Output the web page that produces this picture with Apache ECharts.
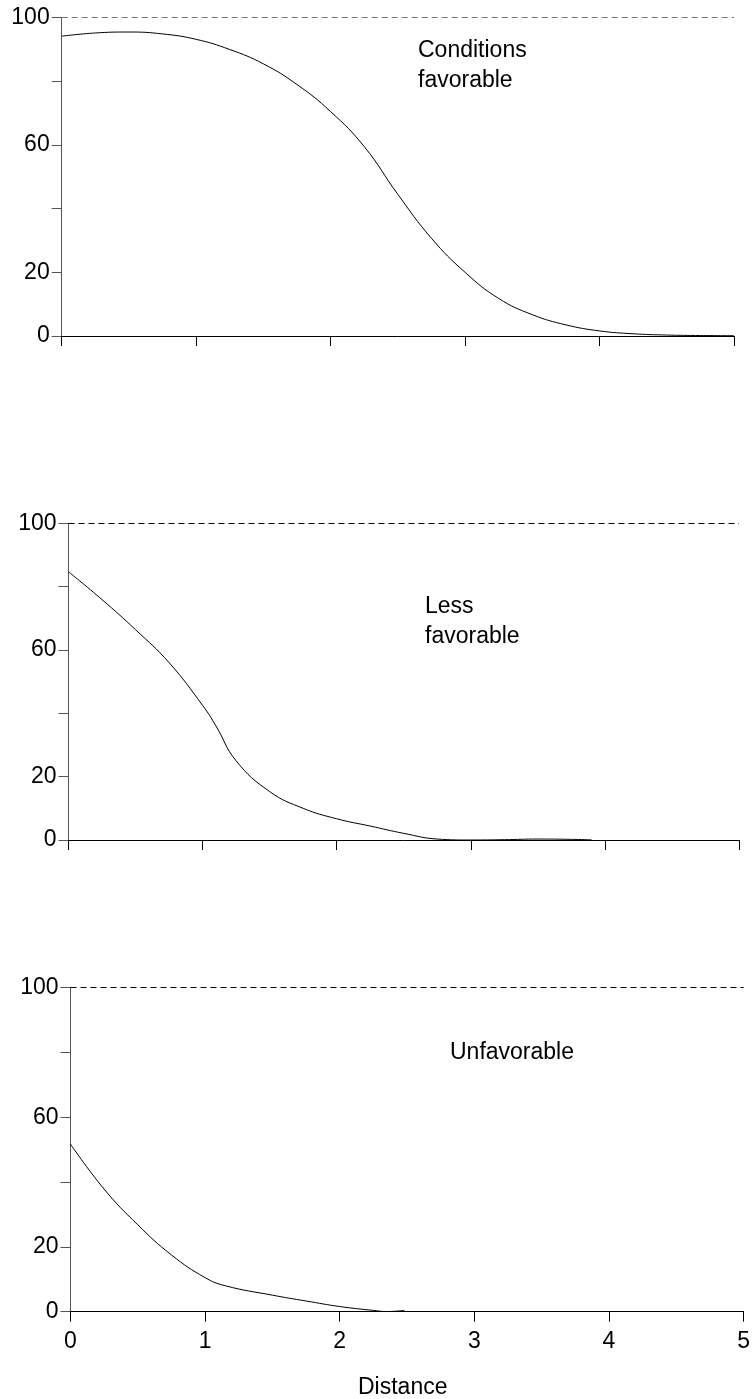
<!DOCTYPE html>
<html>
<head>
<meta charset="utf-8">
<script src="https://cdn.jsdelivr.net/npm/echarts@6/dist/echarts.min.js"></script>
<style>
html,body{margin:0;padding:0;background:#fff;}
#chart{width:753px;height:1399px;}
</style>
</head>
<body>
<div id="chart"></div>
<script>
// ---- data ----
const xTicks = [0, 1, 2, 3, 4, 5];
const yTicks = [0, 20, 40, 60, 80, 100];
const yTickLabels = ['0', '20', '', '60', '', '100'];

const distanceFavorable = [0,0.25,0.5,0.75,1,1.25,1.5,1.75,2,2.25,2.5,2.75,3,3.25,3.5,3.75,4,4.25,4.5,4.75,5];
const valuesFavorable   = [94.2,95.2,95.5,94.9,93.2,90,85.5,79,70.5,59.5,44.5,30.7,20,11.8,6.7,3.5,1.6,0.7,0.3,0.15,0.1];

const distanceLess = [0,0.25,0.5,0.75,1,1.1,1.25,1.5,1.75,2,2.25,2.5,2.75,3,3.25,3.5,3.75,3.9];
const valuesLess   = [84.7,75.9,66.4,56,42.5,36,25,15.3,10,6.7,4.4,2.1,0.3,0,0.1,0.3,0.2,0.05];

const distanceUnfav = [0,0.25,0.5,0.75,1,1.15,1.5,1.75,2,2.25,2.35,2.48];
const valuesUnfav   = [51.7,37.8,26.8,17.5,10.5,8,5.1,3.3,1.6,0.4,0.05,0.4];

const panelTexts = [['Conditions', 'favorable'], ['Less', 'favorable'], ['Unfavorable']];
const xAxisTitle = 'Distance';

// ---- layout ----
const FONT = '"Liberation Sans", Arial, sans-serif';
const FS = 23;
const grids = [
  {left: 61.7, right: 19, top: 17.7, height: 318.3},
  {left: 68.5, right: 14, top: 523.3, height: 316.7},
  {left: 70.5, right: 7.3, top: 987.5, height: 324.2}
];
const panels = [
  {x: distanceFavorable, y: valuesFavorable, showX: false, dash: '#777'},
  {x: distanceLess, y: valuesLess, showX: false, dash: '#000'},
  {x: distanceUnfav, y: valuesUnfav, showX: true, dash: '#000'}
];

const option = {
  animation: false,
  backgroundColor: '#fff',
  grid: grids,
  xAxis: panels.map((p, i) => ({
    type: 'value', gridIndex: i, min: xTicks[0], max: xTicks[xTicks.length - 1], interval: 1,
    axisLine: {show: true, onZero: false, lineStyle: {color: '#000', width: 1}},
    axisTick: {show: true, length: 10, lineStyle: {color: '#000', width: 1}},
    axisLabel: {show: p.showX, margin: 18, color: '#000', fontSize: FS, fontFamily: FONT},
    splitLine: {show: false}
  })),
  yAxis: panels.map((p, i) => ({
    type: 'value', gridIndex: i, min: yTicks[0], max: yTicks[yTicks.length - 1], interval: 20,
    axisLine: {show: true, lineStyle: {color: '#555', width: 1}},
    axisTick: {show: true, length: 10, lineStyle: {color: '#555', width: 1}},
    axisLabel: {
      margin: 12, color: '#000', fontSize: FS, fontFamily: FONT,
      formatter: v => { const k = yTicks.indexOf(v); return k >= 0 ? yTickLabels[k] : ''; }
    },
    splitLine: {show: false}
  })),
  series: panels.map((p, i) => ({
    type: 'line', xAxisIndex: i, yAxisIndex: i,
    data: p.x.map((d, j) => [d, p.y[j]]),
    showSymbol: false, symbol: 'none', smooth: 0.45,
    lineStyle: {color: '#000', width: 1},
    markLine: {
      silent: true, symbol: 'none', label: {show: false},
      lineStyle: {color: p.dash, type: [6, 4], width: 1},
      data: [{yAxis: yTicks[yTicks.length - 1]}]
    }
  })),
  graphic: [
    {type: 'text', left: 418, top: 36, style: {text: panelTexts[0].join('\n'), font: FS + 'px ' + FONT, fill: '#000', lineHeight: 30}},
    {type: 'text', left: 425, top: 592, style: {text: panelTexts[1].join('\n'), font: FS + 'px ' + FONT, fill: '#000', lineHeight: 30}},
    {type: 'text', left: 450, top: 1041, style: {text: panelTexts[2].join('\n'), font: FS + 'px ' + FONT, fill: '#000'}},
    {type: 'text', left: 358, top: 1376, style: {text: xAxisTitle, font: FS + 'px ' + FONT, fill: '#000'}}
  ]
};

const chart = echarts.init(document.getElementById('chart'), null, {renderer: 'canvas'});
chart.setOption(option);
</script>
</body>
</html>
